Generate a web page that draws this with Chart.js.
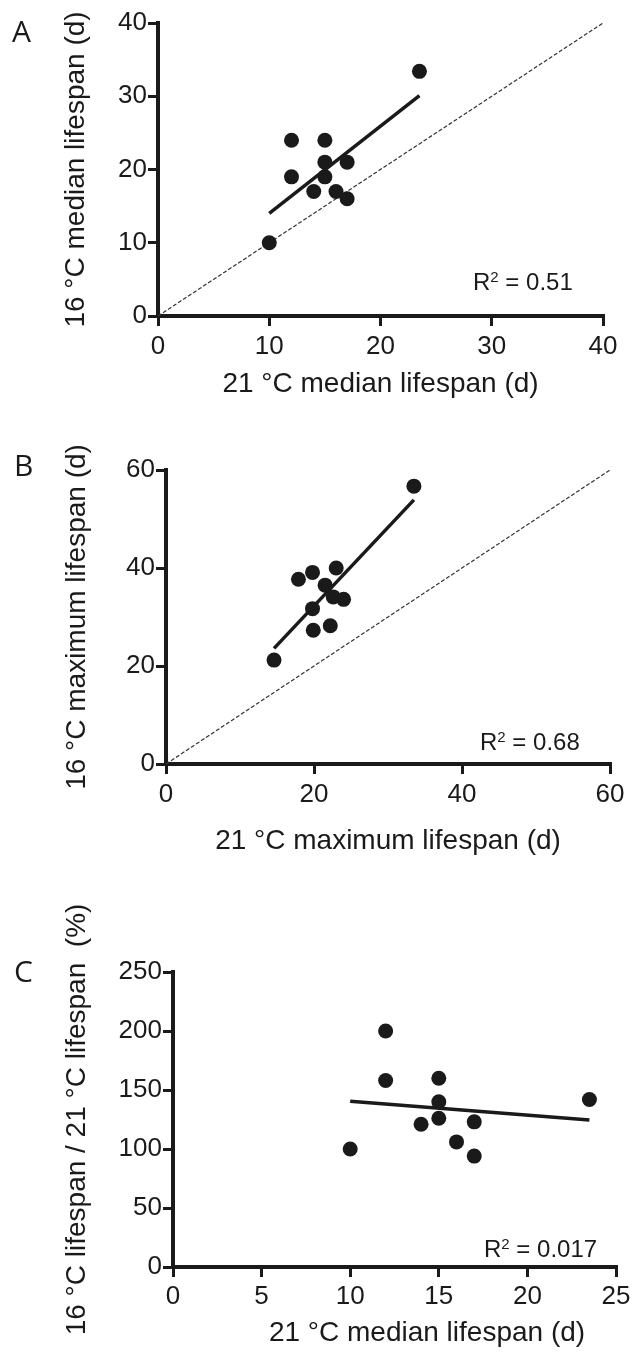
<!DOCTYPE html>
<html>
<head>
<meta charset="utf-8">
<title>Lifespan 16 °C vs 21 °C</title>
<script src="https://cdn.jsdelivr.net/npm/chart.js@4.4.1/dist/chart.umd.min.js"></script>
<style>
    body { margin: 0; background: #fff; }
    #page { position: relative; width: 636px; height: 1353px; overflow: hidden; }
    canvas { position: absolute; left: 0; }
    .panel-letter { position: absolute; font: 30px "Open Sans", sans-serif; line-height: 1; color: #1a1a1a; }
    .r2 { position: absolute; font: 24px "Liberation Sans", Arial, sans-serif; line-height: 1; color: #1a1a1a; white-space: nowrap; }
    .r2 span { font-size: 15px; position: relative; top: -8px; }
</style>
</head>
<body>
<div id="page">
    <canvas id="chart-a" width="636" height="410" style="top:0"></canvas>
    <canvas id="chart-b" width="636" height="450" style="top:420px"></canvas>
    <canvas id="chart-c" width="636" height="473" style="top:880px"></canvas>

    <div class="panel-letter" style="left:12px;top:16px">A</div>
    <div class="panel-letter" style="left:14px;top:450px">B</div>
    <div class="panel-letter" style="left:14px;top:956px">C</div>

    <div class="r2" style="left:473px;top:270px">R<span>2</span> = 0.51</div>
    <div class="r2" style="left:480px;top:730px">R<span>2</span> = 0.68</div>
    <div class="r2" style="left:484px;top:1237px">R<span>2</span> = 0.017</div>
</div>

<script>
// Panel A: median lifespan, 21 °C (x) vs 16 °C (y), days
const medianX21 = [23.5, 12, 15, 15, 17, 12, 15, 14, 16, 17, 10];
const medianY16 = [33.4, 24, 24, 21, 21, 19, 19, 17, 17, 16, 10];
const fitAX = [10, 23.5];
const fitAY = [14, 30.1];
const ticksA = [0, 10, 20, 30, 40];

// Panel B: maximum lifespan
const maxX21 = [33.5, 23, 19.8, 17.9, 21.5, 22.6, 24, 19.8, 22.2, 19.9, 14.6];
const maxY16 = [56.7, 40, 39.1, 37.7, 36.5, 34.1, 33.6, 31.7, 28.2, 27.3, 21.2];
const fitBX = [14.6, 33.5];
const fitBY = [23.6, 53.9];
const ticksB = [0, 20, 40, 60];

// Panel C: ratio 16 °C / 21 °C (%) vs 21 °C median lifespan
const ratioX = [12, 12, 15, 23.5, 15, 15, 14, 17, 16, 10, 17];
const ratioY = [200, 158, 160, 142, 140, 126, 121, 123, 106, 100, 94];
const fitCX = [10, 23.5];
const fitCY = [140.4, 124.6];
const ticksCX = [0, 5, 10, 15, 20, 25];
const ticksCY = [0, 50, 100, 150, 200, 250];

const ink = '#1a1a1a';
const fontFamily = '"Liberation Sans", Arial, sans-serif';
const tickFont = { family: fontFamily, size: 26 };
const titleFont = { family: fontFamily, size: 28 };

function pairs(xs, ys) {
    return xs.map((x, i) => ({ x: x, y: ys[i] }));
}

function axis(tickValues, boxSize, horizontal, labelPad, title, titlePad) {
    return {
        type: 'linear',
        min: tickValues[0],
        max: tickValues[tickValues.length - 1],
        afterBuildTicks: (sc) => { sc.ticks = tickValues.map(v => ({ value: v })); },
        afterFit: (sc) => {
            if (horizontal) sc.height = boxSize;
            else sc.width = boxSize;
        },
        grid: { drawOnChartArea: false, drawTicks: true, tickLength: 10, color: ink, lineWidth: 3 },
        border: { display: true, color: ink, width: 4 },
        ticks: { color: ink, font: tickFont, padding: labelPad, maxRotation: 0, autoSkip: false },
        title: { display: !!title, text: title || '', color: ink, font: titleFont, padding: titlePad || 0 }
    };
}

function lifespanChart(canvasId, cfg) {
    const datasets = [
        { data: pairs(cfg.px, cfg.py), pointRadius: 7.5, pointBackgroundColor: ink, pointBorderWidth: 0, order: 1 },
        { data: pairs(cfg.fx, cfg.fy), showLine: true, pointRadius: 0, borderColor: ink, borderWidth: 3.5, order: 2 }
    ];
    if (cfg.identity) {
        datasets.push({
            data: pairs(cfg.identity, cfg.identity), showLine: true, pointRadius: 0,
            borderColor: '#333', borderWidth: 1.2, borderDash: [4, 2], order: 3
        });
    }

    return new Chart(document.getElementById(canvasId), {
        type: 'scatter',
        data: { datasets: datasets },
        options: {
            responsive: false,
            animation: false,
            devicePixelRatio: 1,
            events: [],
            layout: { padding: cfg.padding },
            plugins: { legend: { display: false }, tooltip: { enabled: false } },
            scales: { x: cfg.x, y: cfg.y }
        },
        plugins: cfg.plugins || []
    });
}

// C's x title sits right of the axis centre in the original, so it is drawn by hand
const offsetXTitle = {
    id: 'offsetXTitle',
    afterDraw(chart) {
        const ctx = chart.ctx;
        ctx.save();
        ctx.font = `28px ${fontFamily}`;
        ctx.fillStyle = ink;
        ctx.textAlign = 'center';
        ctx.textBaseline = 'middle';
        ctx.fillText('21 °C median lifespan (d)', 427, 453);
        ctx.restore();
    }
};

lifespanChart('chart-a', {
    px: medianX21, py: medianY16, fx: fitAX, fy: fitAY, identity: [0, 40],
    padding: { left: 0, top: 23, right: 33, bottom: 0 },
    x: axis(ticksA, 94, true, 5, '21 °C median lifespan (d)', { bottom: 9 }),
    y: axis(ticksA, 158, false, 1, '16 °C median lifespan (d)', { top: 59 })
});

lifespanChart('chart-b', {
    px: maxX21, py: maxY16, fx: fitBX, fy: fitBY, identity: [0, 60],
    padding: { left: 0, top: 50, right: 26, bottom: 0 },
    x: axis(ticksB, 106, true, 5, '21 °C maximum lifespan (d)', { bottom: 12 }),
    y: axis(ticksB, 166, false, 1, '16 °C maximum lifespan (d)', { top: 60 })
});

lifespanChart('chart-c', {
    px: ratioX, py: ratioY, fx: fitCX, fy: fitCY,
    padding: { left: 0, top: 92, right: 20, bottom: 0 },
    x: axis(ticksCX, 86, true, 4, null),
    y: axis(ticksCY, 173, false, 1, '16 °C lifespan / 21 °C lifespan  (%)', { top: 60 }),
    plugins: [offsetXTitle]
});
</script>
</body>
</html>
